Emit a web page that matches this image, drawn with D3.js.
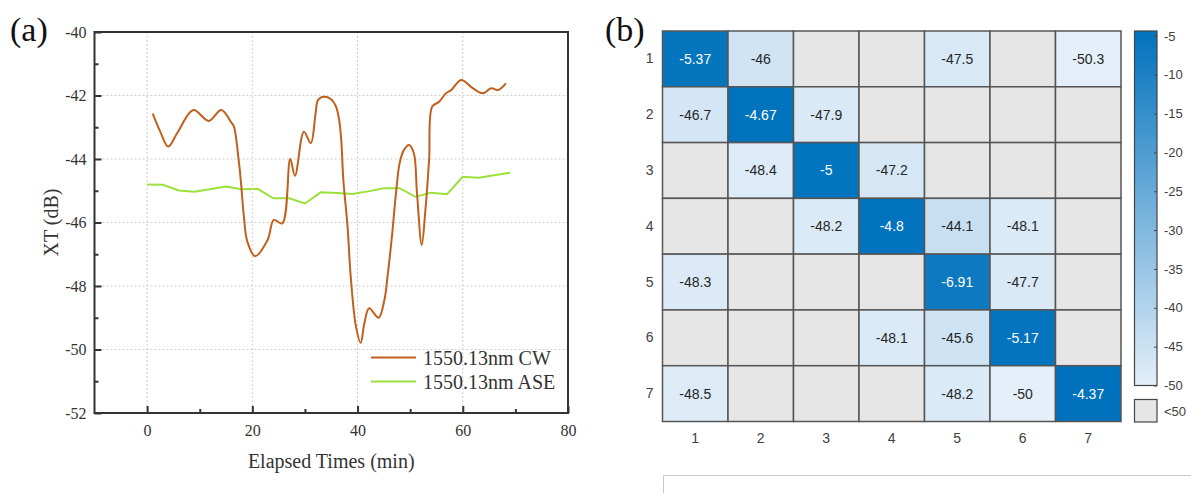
<!DOCTYPE html>
<html>
<head>
<meta charset="utf-8">
<script src="https://cdn.jsdelivr.net/npm/d3@7"></script>
<style>
  body { margin: 0; background: #fff; }
</style>
</head>
<body>
<script>
// (a) crosstalk vs time
var cwX = [1.07, 2.5, 4.0, 5.7, 8.8, 11.7, 14.1, 16.0, 16.5, 17.4, 17.8, 18.4, 19.05, 20.5, 22.9, 24.1, 25.7,
  27.2, 28.1, 29.8, 31.1, 32.0, 32.5, 33.6, 34.9, 35.9, 36.5, 36.9, 37.3, 38.1, 38.7, 39.7, 40.6, 41.3, 42.2, 44.0,
  45.1, 45.7, 46.6, 47.3, 48.0, 48.8, 49.8, 50.7, 51.3, 52.2, 52.9, 53.6, 54.2, 55.5, 56.8, 57.8, 59.7, 61.9, 63.8,
  65.4, 66.7, 68.2];
var cwY = [-42.57, -43.14, -43.61, -43.19, -42.46, -42.8, -42.46, -42.85, -42.98, -44.03, -44.66, -45.82, -46.6, -47.06,
  -46.55, -45.92, -46.03, -44.0, -44.53, -43.14, -43.5, -42.6, -42.14, -42.04, -42.11, -42.35, -42.77, -43.4, -44.66,
  -46.13, -47.7, -49.28, -49.79, -49.17, -48.7, -49.0, -48.44, -47.7, -46.33, -45.08, -44.13, -43.72, -43.56, -43.82,
  -45.08, -46.71, -45.6, -44.03, -42.35, -42.2, -41.93, -41.83, -41.51, -41.77, -41.93, -41.77, -41.83, -41.62];
var aseX = [0, 3, 6, 9, 15, 18, 21, 24, 27, 30, 33, 36, 39, 42, 45, 48, 51, 54, 57, 60, 63, 69];
var aseY = [-44.8, -44.81, -44.99, -45.03, -44.87, -44.95, -44.94, -45.24, -45.24, -45.4, -45.05, -45.07, -45.1,
  -45.02, -44.92, -44.92, -45.19, -45.06, -45.11, -44.56, -44.59, -44.43];
var seriesNames = ['1550.13nm CW', '1550.13nm ASE'];
var seriesColors = ['#c0601c', '#9be03c'];

// (b) crosstalk matrix, null = below -50
var cores = [1, 2, 3, 4, 5, 6, 7];
var xtMatrix = [
  [-5.37, -46, null, null, -47.5, null, -50.3],
  [-46.7, -4.67, -47.9, null, null, null, null],
  [null, -48.4, -5, -47.2, null, null, null],
  [null, null, -48.2, -4.8, -44.1, -48.1, null],
  [-48.3, null, null, null, -6.91, -47.7, null],
  [null, null, null, -48.1, -45.6, -5.17, null],
  [-48.5, null, null, null, -48.2, -50, -4.37]
];
var cbTicks = [-5, -10, -15, -20, -25, -30, -35, -40, -45, -50];

var svg = d3.select('body').append('svg')
  .attr('width', 1191)
  .attr('height', 493);
svg.append('rect').attr('width', 1191).attr('height', 493).attr('fill', '#fff');

var serif = '"Liberation Serif", "Times New Roman", serif';
var sans = '"Liberation Sans", Arial, sans-serif';
var plain = d => String(d); // hyphen minus, like the original

// ---------- panel (a) ----------
var x = d3.scaleLinear().domain([-10, 80]).range([94.5, 568]);
var y = d3.scaleLinear().domain([-52, -40]).range([413, 32]);

var grid = svg.append('g');
grid.selectAll('line.gx').data([0, 20, 40, 60]).enter().append('line')
  .attr('x1', d => x(d)).attr('x2', d => x(d))
  .attr('y1', y(-40)).attr('y2', y(-52))
  .attr('stroke', '#cfcfcf').attr('stroke-dasharray', '2,2');
grid.selectAll('line.gy').data([-42, -44, -46, -48, -50]).enter().append('line')
  .attr('x1', x(-10)).attr('x2', x(80))
  .attr('y1', d => y(d)).attr('y2', d => y(d))
  .attr('stroke', '#cfcfcf').attr('stroke-dasharray', '2,2');

var line = d3.line()
  .x(d => x(d[0]))
  .y(d => y(d[1]));

svg.append('path')
  .datum(d3.zip(aseX, aseY))
  .attr('d', line)
  .attr('fill', 'none')
  .attr('stroke', seriesColors[1])
  .attr('stroke-width', 2);

svg.append('path')
  .datum(d3.zip(cwX, cwY))
  .attr('d', line.curve(d3.curveCatmullRom.alpha(0.5)))
  .attr('fill', 'none')
  .attr('stroke', seriesColors[0])
  .attr('stroke-width', 2);

// frame
svg.append('rect')
  .attr('x', x(-10)).attr('y', y(-40))
  .attr('width', x(80) - x(-10)).attr('height', y(-52) - y(-40))
  .attr('fill', 'none').attr('stroke', '#333').attr('stroke-width', 2);

var xAxis = svg.append('g')
  .attr('transform', 'translate(0,' + y(-52) + ')')
  .call(d3.axisBottom(x).tickValues([0, 20, 40, 60, 80]).tickSizeInner(-7).tickSizeOuter(0).tickPadding(12)
    .tickFormat(plain));
svg.append('g')
  .attr('transform', 'translate(0,' + y(-52) + ')')
  .call(d3.axisBottom(x).tickValues([10, 30, 50, 70]).tickSizeInner(-4).tickSizeOuter(0).tickFormat(''));
var yAxis = svg.append('g')
  .attr('transform', 'translate(' + x(-10) + ',0)')
  .call(d3.axisLeft(y).tickValues([-40, -42, -44, -46, -48, -50, -52]).tickSizeInner(-7).tickSizeOuter(0).tickPadding(8)
    .tickFormat(plain));
svg.append('g')
  .attr('transform', 'translate(' + x(-10) + ',0)')
  .call(d3.axisLeft(y).tickValues([-41, -43, -45, -47, -49, -51]).tickSizeInner(-4).tickSizeOuter(0).tickFormat(''));

svg.selectAll('.domain').remove();
svg.selectAll('.tick line').attr('stroke', '#333').attr('stroke-width', 2);
[xAxis, yAxis].forEach(function (a) {
  a.selectAll('text')
    .attr('font-family', serif)
    .attr('font-size', 16)
    .attr('fill', '#333');
});

svg.append('text')
  .attr('x', (x(-10) + x(80)) / 2).attr('y', 468)
  .attr('text-anchor', 'middle')
  .attr('font-family', serif).attr('font-size', 20).attr('fill', '#333')
  .text('Elapsed Times (min)');
svg.append('text')
  .attr('transform', 'translate(58,' + (y(-40) + y(-52)) / 2 + ') rotate(-90)')
  .attr('text-anchor', 'middle')
  .attr('font-family', serif).attr('font-size', 20).attr('fill', '#333')
  .text('XT (dB)');
svg.append('text')
  .attr('x', 10).attr('y', 41)
  .attr('font-family', serif).attr('font-size', 34).attr('fill', '#111')
  .text('(a)');

// legend
var legend = svg.append('g').selectAll('g').data(seriesNames).enter().append('g')
  .attr('transform', (d, i) => 'translate(371,' + (357.5 + i * 24) + ')');
legend.append('line')
  .attr('x1', 0).attr('x2', 45)
  .attr('stroke', (d, i) => seriesColors[i]).attr('stroke-width', 2);
legend.append('text')
  .attr('x', 52).attr('y', 7)
  .attr('font-family', serif).attr('font-size', 20).attr('fill', '#333')
  .text(d => d);

// ---------- panel (b) ----------
svg.append('text')
  .attr('x', 605).attr('y', 41)
  .attr('font-family', serif).attr('font-size', 34).attr('fill', '#111')
  .text('(b)');

var cx = d3.scaleBand().domain(cores).range([662.5, 1121]);
var cy = d3.scaleBand().domain(cores).range([31, 421.5]);
var vmax = d3.max(xtMatrix.flat());
var color = d3.scaleLinear().domain([-50, vmax]).range(['#e4eff9', '#0072bd']).clamp(true);

var cells = [];
xtMatrix.forEach(function (row, i) {
  row.forEach(function (v, j) {
    cells.push({ r: cores[i], c: cores[j], v: v });
  });
});

var cell = svg.append('g').selectAll('g').data(cells).enter().append('g');
cell.append('rect')
  .attr('x', d => cx(d.c)).attr('y', d => cy(d.r))
  .attr('width', cx.bandwidth()).attr('height', cy.bandwidth())
  .attr('fill', d => d.v === null ? '#e6e6e6' : color(d.v))
  .attr('stroke', '#555').attr('stroke-width', 1.5);
cell.filter(d => d.v !== null).append('text')
  .attr('x', d => cx(d.c) + cx.bandwidth() / 2)
  .attr('y', d => cy(d.r) + cy.bandwidth() / 2 + 5)
  .attr('text-anchor', 'middle')
  .attr('font-family', sans).attr('font-size', 14)
  .attr('fill', d => d.v > -30 ? '#fff' : '#262626')
  .text(d => d.v);

var hx = svg.append('g')
  .attr('transform', 'translate(0,' + 421.5 + ')')
  .call(d3.axisBottom(cx).tickSize(0).tickPadding(12));
var hy = svg.append('g')
  .attr('transform', 'translate(662.5,0)')
  .call(d3.axisLeft(cy).tickSize(0).tickPadding(9));
[hx, hy].forEach(function (a) {
  a.select('.domain').remove();
  a.selectAll('text').attr('font-family', sans).attr('font-size', 14).attr('fill', '#404040');
});

// colorbar
var grad = svg.append('defs').append('linearGradient')
  .attr('id', 'cbar').attr('x1', 0).attr('y1', 1).attr('x2', 0).attr('y2', 0);
grad.append('stop').attr('offset', 0).attr('stop-color', color(-50));
grad.append('stop').attr('offset', 1).attr('stop-color', color(vmax));

var cby = d3.scaleLinear().domain([-50, vmax]).range([385.5, 31]);
svg.append('rect')
  .attr('x', 1134.5).attr('y', cby(vmax))
  .attr('width', 22.5).attr('height', cby(-50) - cby(vmax))
  .attr('fill', 'url(#cbar)').attr('stroke', '#444').attr('stroke-width', 1.2);
var cbAxis = svg.append('g')
  .attr('transform', 'translate(1157,0)')
  .call(d3.axisRight(cby).tickValues(cbTicks).tickSizeInner(-3).tickSizeOuter(0).tickPadding(7).tickFormat(plain));
cbAxis.select('.domain').remove();
cbAxis.selectAll('.tick line').attr('stroke', '#444');
cbAxis.selectAll('text').attr('font-family', sans).attr('font-size', 13).attr('fill', '#404040');

svg.append('rect')
  .attr('x', 1134.5).attr('y', 399.5).attr('width', 22.5).attr('height', 22.5)
  .attr('fill', '#e6e6e6').attr('stroke', '#444').attr('stroke-width', 1.2);
svg.append('text')
  .attr('x', 1164).attr('y', 415.5)
  .attr('font-family', sans).attr('font-size', 13).attr('fill', '#404040')
  .text('<50');

// frame edge at the bottom of panel (b)
svg.append('path')
  .attr('d', 'M663.5,493V475.5H1191')
  .attr('fill', 'none').attr('stroke', '#c8c8c8');
</script>
</body>
</html>
